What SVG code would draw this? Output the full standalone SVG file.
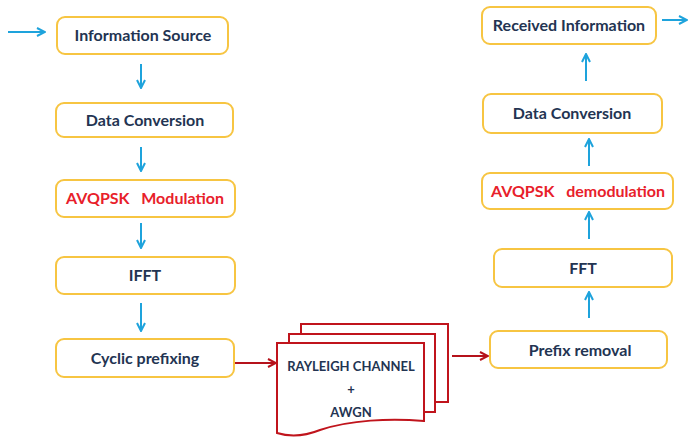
<svg xmlns="http://www.w3.org/2000/svg" width="688" height="439" viewBox="0 0 688 439">
<style>
.box{fill:#fff;stroke:#f7c542;stroke-width:2}
.t{font-family:Lato,"Open Sans",sans-serif;font-weight:bold;font-size:16px;fill:#233452;text-anchor:middle;white-space:pre}
.r{fill:#e8202a}
.blue{stroke:#1ea3dc;stroke-width:2;fill:none}
.red{stroke:#b5121b;stroke-width:2;fill:none}
.page{fill:#fff;stroke:#c0141c;stroke-width:2}
.ct{font-family:Lato,"Open Sans",sans-serif;font-weight:bold;font-size:13px;fill:#233452;text-anchor:middle}
</style>
<defs>
<marker id="ab" markerWidth="10" markerHeight="10" refX="9" refY="5" orient="auto" markerUnits="userSpaceOnUse"><path d="M1,1 L9,5 L1,9" fill="none" stroke="#1ea3dc" stroke-width="2"/></marker>
<marker id="ar" markerWidth="10" markerHeight="10" refX="9" refY="5" orient="auto" markerUnits="userSpaceOnUse"><path d="M1,1 L9,5 L1,9" fill="none" stroke="#b5121b" stroke-width="2"/></marker>
</defs>
<rect width="688" height="439" fill="#fff"/>
<g id="connectors">
<line class="blue" x1="8" y1="32" x2="45" y2="32" marker-end="url(#ab)"/>
<line class="blue" x1="141" y1="64" x2="141" y2="88" marker-end="url(#ab)"/>
<line class="blue" x1="141" y1="147" x2="141" y2="171" marker-end="url(#ab)"/>
<line class="blue" x1="141" y1="223" x2="141" y2="248" marker-end="url(#ab)"/>
<line class="blue" x1="141" y1="303" x2="141" y2="331" marker-end="url(#ab)"/>
<line class="red" x1="234" y1="363" x2="276" y2="363" marker-end="url(#ar)"/>
<line class="red" x1="452" y1="356" x2="488" y2="356" marker-end="url(#ar)"/>
<line class="blue" x1="589" y1="318" x2="589" y2="292" marker-end="url(#ab)"/>
<line class="blue" x1="589" y1="239" x2="589" y2="212" marker-end="url(#ab)"/>
<line class="blue" x1="589" y1="166" x2="589" y2="139" marker-end="url(#ab)"/>
<line class="blue" x1="586" y1="81" x2="586" y2="54" marker-end="url(#ab)"/>
<line class="blue" x1="662" y1="20" x2="687" y2="20" marker-end="url(#ab)"/>
</g>
<g id="n1"><rect class="box" x="57" y="17" width="171" height="37" rx="8"/><text class="t" x="143" y="41">Information Source</text></g>
<g id="n2"><rect class="box" x="56" y="103" width="177" height="34" rx="8"/><text class="t" x="145" y="126">Data Conversion</text></g>
<g id="n3"><rect class="box" x="56" y="180" width="179" height="37" rx="8"/><text class="t r" x="145" y="204" xml:space="preserve">AVQPSK   Modulation</text></g>
<g id="n4"><rect class="box" x="56" y="257" width="179" height="37" rx="8"/><text class="t" x="145" y="281">IFFT</text></g>
<g id="n5"><rect class="box" x="56" y="339" width="178" height="38" rx="8"/><text class="t" x="145" y="364">Cyclic prefixing</text></g>
<g id="channel">
<rect class="page" x="301" y="324" width="147" height="78"/>
<rect class="page" x="289" y="334" width="146" height="78"/>
<path class="page" d="M277,343 H424 V421 C390,418 350,420 320,430 C305,436 290,437 277,433 Z"/>
<text class="ct" x="351" y="371">RAYLEIGH CHANNEL</text>
<text class="ct" x="351" y="394">+</text>
<text class="ct" x="351" y="417">AWGN</text>
</g>
<g id="n6"><rect class="box" x="490" y="331" width="177" height="37" rx="8"/><text class="t" x="580" y="356">Prefix removal</text></g>
<g id="n7"><rect class="box" x="494" y="249" width="178" height="38" rx="8"/><text class="t" x="583" y="274">FFT</text></g>
<g id="n8"><rect class="box" x="482" y="173" width="191" height="36" rx="8"/><text class="t r" x="578" y="197" xml:space="preserve">AVQPSK   demodulation</text></g>
<g id="n9"><rect class="box" x="483" y="94" width="179" height="39" rx="8"/><text class="t" x="572" y="119">Data Conversion</text></g>
<g id="n10"><rect class="box" x="482" y="7" width="174" height="37" rx="8"/><text class="t" x="569" y="31">Received Information</text></g>
</svg>
